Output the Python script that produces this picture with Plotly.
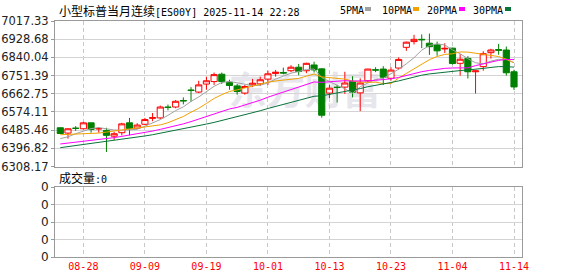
import plotly.graph_objects as go
import pandas as pd

dates = ["08-25","08-26","08-27","08-28","08-29","09-01","09-02","09-03","09-04","09-05",
         "09-08","09-09","09-10","09-11","09-12","09-15","09-16","09-17","09-18","09-19",
         "09-22","09-23","09-24","09-25","09-26","09-29","09-30","10-01","10-02","10-03",
         "10-06","10-07","10-08","10-09","10-10","10-13","10-14","10-15","10-16","10-17",
         "10-20","10-21","10-22","10-23","10-24","10-27","10-28","10-29","10-30","10-31",
         "11-03","11-04","11-05","11-06","11-07","11-10","11-11","11-12","11-13","11-14"]

opens = [6497,6471,6495,6492,6521,6491,6484,6456,6473,6521,
         6495,6514,6543,6545,6598,6598,6630,6681,6671,6710,
         6722,6758,6719,6701,6666,6706,6711,6734,6761,6766,
         6775,6792,6775,6803,6784,6666,6695,6695,6722,6667,
         6726,6780,6783,6738,6788,6889,6917,6928,6909,6901,
         6881,6885,6811,6835,6770,6795,6863,6878,6876,6770]
highs = [6499,6494,6505,6526,6522,6500,6497,6476,6521,6545,
         6519,6545,6569,6605,6610,6632,6645,6695,6726,6746,
         6766,6766,6731,6711,6706,6735,6746,6775,6779,6790,
         6802,6808,6814,6819,6787,6706,6706,6770,6748,6738,
         6785,6792,6797,6792,6840,6917,6950,6952,6956,6917,
         6909,6887,6856,6846,6776,6870,6882,6906,6893,6780]
lows = [6467,6444,6482,6489,6473,6473,6379,6437,6460,6460,
        6494,6510,6529,6540,6582,6592,6611,6624,6666,6682,
        6706,6711,6682,6658,6658,6695,6701,6706,6746,6758,
        6768,6753,6763,6766,6546,6642,6620,6662,6645,6578,
        6720,6768,6705,6727,6780,6872,6903,6885,6852,6848,
        6861,6805,6751,6737,6664,6775,6834,6853,6751,6681]
closes = [6469,6492,6494,6521,6489,6493,6460,6468,6516,6493,
          6510,6537,6546,6598,6596,6626,6628,6679,6706,6726,
          6756,6722,6703,6674,6698,6714,6731,6760,6768,6764,
          6792,6771,6811,6779,6558,6690,6693,6715,6670,6715,
          6783,6778,6743,6778,6830,6914,6928,6926,6892,6872,
          6884,6810,6831,6770,6774,6858,6876,6875,6765,6696]
volumes = [0] * len(dates)

ma5_early = [6444, 6453, 6468, 6481]
ma10_early = [6463, 6464, 6465, 6466, 6468, 6471, 6476, 6481, 6486]
ma20_early = [6418, 6422, 6426, 6430, 6434, 6439, 6444, 6449, 6455, 6461,
              6467, 6474, 6481, 6489, 6497, 6506, 6516, 6527, 6539]
ma30_early = [6400, 6405, 6409, 6414, 6419, 6424, 6429, 6434, 6440, 6445,
              6451, 6457, 6463, 6470, 6477, 6484, 6491, 6499, 6507, 6515,
              6523, 6532, 6541, 6550, 6560, 6570, 6580, 6591, 6601]

y_ticks = [6308.17, 6396.82, 6485.46, 6574.11, 6662.75, 6751.39, 6840.04, 6928.68, 7017.33]
y_ticktext = ["6308.17", "6396.82", "6485.46", "6574.11", "6662.75", "6751.39", "6840.04", "6928.68", "7017.33"]
x_ticks = ["08-28", "09-09", "09-19", "10-01", "10-13", "10-23", "11-04", "11-14"]

title_cn = "小型标普当月连续"
title_rest = "[ES00Y] 2025-11-14 22:28"
ma_names = ["5PMA", "10PMA", "20PMA", "30PMA"]
ma_colors = ["#a0a0a0", "#f0a000", "#ff00ff", "#08733a"]


def ma(n, early):
    s = pd.Series(closes, dtype=float).rolling(n).mean().tolist()
    return early + s[len(early):]


ma_series = [ma(5, ma5_early), ma(10, ma10_early), ma(20, ma20_early), ma(30, ma30_early)]

W, H = 578, 276
def px(x):
    return x / W
def py(y):
    return 1 - y / H

fig = go.Figure()
fig.add_trace(go.Candlestick(
    x=dates, open=opens, high=highs, low=lows, close=closes,
    increasing=dict(line=dict(color="#ff0000", width=1), fillcolor="#ffffff"),
    decreasing=dict(line=dict(color="#008000", width=1), fillcolor="#008000"),
    whiskerwidth=0, showlegend=False, hoverinfo="skip", xaxis="x", yaxis="y"))
for name, col, vals in zip(ma_names, ma_colors, ma_series):
    fig.add_trace(go.Scatter(x=dates, y=vals, mode="lines", name=name,
                             line=dict(color=col, width=1), showlegend=False,
                             hoverinfo="skip", xaxis="x", yaxis="y"))
fig.add_trace(go.Bar(x=dates, y=volumes, marker_color="#ff0000", showlegend=False,
                     hoverinfo="skip", xaxis="x2", yaxis="y2"))

xdom = [px(55), px(522)]
xr = [-0.69, len(dates) - 1 + 1.04]
grid = "#d4d4d4"
border = "#9a9a9a"
axis_common = dict(showline=True, linecolor=border, linewidth=1, mirror=True,
                   zeroline=False, automargin=False)

fig.update_layout(
    template="none",
    width=W, height=H, autosize=False,
    margin=dict(l=0, r=0, t=0, b=0, pad=0),
    paper_bgcolor="#ffffff", plot_bgcolor="#ffffff",
    boxgap=0.2, boxgroupgap=0,
    xaxis=dict(domain=xdom, type="category", range=xr, anchor="y",
               rangeslider=dict(visible=False),
               tickmode="array", tickvals=x_ticks, showticklabels=False, ticks="",
               showgrid=True, gridcolor="#c8c8c8", griddash="4px,3px", gridwidth=1,
               **axis_common),
    yaxis=dict(domain=[py(166.5), py(21)], range=[y_ticks[0], y_ticks[-1]], anchor="x",
               tickmode="array", tickvals=y_ticks, ticktext=y_ticktext,
               ticks="outside", ticklen=3, tickcolor=border, tickwidth=1,
               tickfont=dict(family="DejaVu Sans", size=11.5, color="#222222"),
               showgrid=True, gridcolor=grid, gridwidth=1, **axis_common),
    xaxis2=dict(domain=xdom, type="category", range=xr, anchor="y2",
                tickmode="array", tickvals=x_ticks, ticktext=x_ticks, ticks="",
                tickfont=dict(family="DejaVu Sans Mono", size=10, color="#ff0000"),
                showgrid=True, gridcolor="#c8c8c8", griddash="4px,3px", gridwidth=1,
                **axis_common),
    yaxis2=dict(domain=[py(257), py(187)], range=[0, 1], anchor="x2",
                tickmode="array", tickvals=[0, 0.25, 0.5, 0.75, 1], ticktext=["0"] * 5,
                ticks="outside", ticklen=3, tickcolor=border, tickwidth=1,
                tickfont=dict(family="DejaVu Sans", size=12, color="#222222"),
                showgrid=True, gridcolor=grid, gridwidth=1, **axis_common),
)

annotations = [
    dict(x=px(57), y=py(10), xref="paper", yref="paper", xanchor="left", yanchor="middle",
         showarrow=False,
         text='<span style="font-family:\'Noto Sans CJK SC\';font-size:12px">' + title_cn + '</span>' + title_rest,
         font=dict(family="DejaVu Sans Mono", size=10, color="#000000")),
    dict(x=px(57), y=py(177), xref="paper", yref="paper", xanchor="left", yanchor="middle",
         showarrow=False,
         text='<span style="font-family:\'Noto Sans CJK SC\';font-size:12px">成交量</span>:0',
         font=dict(family="DejaVu Sans Mono", size=10, color="#000000")),
]
leg_text_x = [338, 380, 425, 471]
leg_box_x = [365, 413, 459, 505]
shapes = []
for name, col, tx, bx in zip(ma_names, ma_colors, leg_text_x, leg_box_x):
    annotations.append(dict(x=px(tx), y=py(10), xref="paper", yref="paper", xanchor="left",
                            yanchor="middle", showarrow=False, text=name,
                            font=dict(family="DejaVu Sans Mono", size=10, color="#000000")))
    shapes.append(dict(type="rect", xref="paper", yref="paper", x0=px(bx), x1=px(bx + 6),
                       y0=py(11), y1=py(7), line=dict(width=0), fillcolor=col))
# watermark
shapes.append(dict(type="rect", xref="x domain", yref="y domain", x0=0.38, x1=0.69, y0=0.35, y1=0.65,
                   line=dict(width=0), fillcolor="rgba(0,0,0,0)", layer="below",
                   label=dict(text="东方财富", font=dict(family="Noto Sans CJK SC", size=38,
                                                        color="#e6e6ec", weight="bold"))))
fig.update_layout(annotations=annotations, shapes=shapes)

fig.write_html("out.html")
